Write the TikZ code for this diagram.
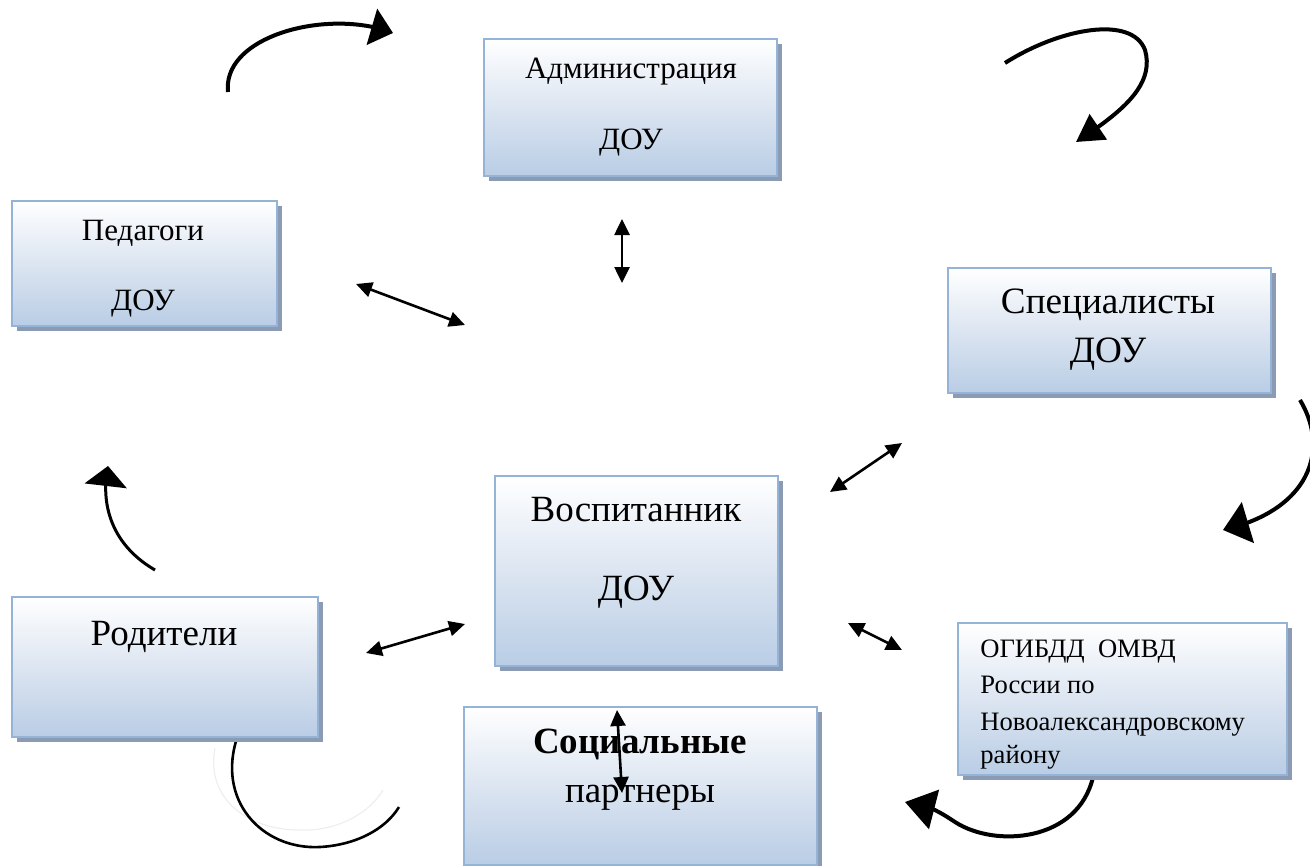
\documentclass[tikz,border=0pt]{standalone}
\usepackage{fontspec}
\setmainfont{Liberation Serif}
\usetikzlibrary{arrows.meta,shadows,bending}
\definecolor{bordc}{HTML}{95B3D7}
\definecolor{boxb}{HTML}{B9CDE5}
\definecolor{boxm}{HTML}{DCE5F1}
\definecolor{shadc}{HTML}{8A9BB3}
\definecolor{faint}{HTML}{EEEEEE}
\begin{document}
\begin{tikzpicture}[x=0.5pt,y=-0.5pt,
  box/.style={draw=bordc, line width=1pt, top color=white, bottom color=boxb, middle color=boxm,
    inner sep=0pt, drop shadow={shadow xshift=2.5pt, shadow yshift=-2.5pt, fill=shadc, opacity=1}},
  lbl/.style={anchor=base, inner sep=0pt},
  lbll/.style={anchor=base west, inner sep=0pt},
  dbl/.style={{Triangle[length=8pt,width=7.5pt]}-{Triangle[length=8pt,width=7.5pt]}, line width=1.3pt},
  curv/.style={line width=2pt}
]
\useasboundingbox (0,0) rectangle (1310,866);

% coordinates for curved arrows
\coordinate (c1s) at (228,92);   \coordinate (c1e) at (393,33);
\coordinate (c2s) at (1005,63);  \coordinate (c2m) at (1145,50); \coordinate (c2e) at (1076,142);
\coordinate (c3s) at (155,570);  \coordinate (c3e) at (108,466);
\coordinate (c4s) at (1300,400); \coordinate (c4e) at (1223,530);
\coordinate (c5s) at (1093,777); \coordinate (c5m) at (955,822); \coordinate (c5e) at (905,802);
\coordinate (c6s) at (238,735);  \coordinate (c6m) at (320,847); \coordinate (c6e) at (399,807);
\coordinate (f6s) at (215,748);  \coordinate (f6m) at (305,830); \coordinate (f6e) at (383,790);

% faint and black arc (bottom left)
\draw[faint, line width=0.6pt] (f6s) .. controls (205,800) and (250,832) .. (f6m) .. controls (340,830) and (370,812) .. (f6e);
\draw[line width=1.3pt] (c6s) .. controls (215,800) and (262,850) .. (c6m) .. controls (355,845) and (385,830) .. (c6e);

% curved arrows
\draw[curv, -{Triangle[length=11pt,width=18.5pt]}] (c1s) .. controls (222,35) and (330,8) .. (c1e);
\draw[curv, -{Triangle[length=13.5pt,width=15pt]}] (c2s) .. controls (1060,28) and (1132,15) .. (c2m) .. controls (1155,85) and (1122,112) .. (c2e);
\draw[curv, line width=1.5pt, -{Triangle[length=10pt,width=21pt]}] (c3s) .. controls (112,545) and (100,505) .. (c3e);
\draw[curv, -{Triangle[length=13pt,width=21pt]}] (c4s) .. controls (1330,450) and (1310,510) .. (c4e);
\draw[curv, -{Triangle[length=15pt,width=20pt]}] (c5s) .. controls (1078,842) and (995,848) .. (c5m) .. controls (940,812) and (925,803) .. (c5e);

% boxes
\node[box, minimum width=146.5pt, minimum height=68.5pt] (adm) at (630.5,107.5) {};
\node[box, minimum width=132.5pt, minimum height=62.5pt] (ped) at (144.5,263.5) {};
\node[box, minimum width=161.5pt, minimum height=62.5pt] (spec) at (1109.5,330.5) {};
\node[box, minimum width=141.5pt, minimum height=95pt] (vosp) at (636.5,571) {};
\node[box, minimum width=153pt, minimum height=70pt] (rod) at (165,667) {};
\node[box, minimum width=176.5pt, minimum height=79pt] (soc) at (640.5,786) {};
\node[box, minimum width=164.5pt, minimum height=76pt] (ogi) at (1122.5,699) {};

% labels
\node[lbl, font=\fontsize{15.5}{18}\selectfont] (adm1) at (631,79) {Администрация};
\node[lbl, font=\fontsize{15.5}{18}\selectfont] (adm2) at (631,150) {ДОУ};
\node[lbl, font=\fontsize{15.5}{18}\selectfont] (ped1) at (143,241) {Педагоги};
\node[lbl, font=\fontsize{15.5}{18}\selectfont] (ped2) at (143,310) {ДОУ};
\node[lbl, font=\fontsize{18.6}{22}\selectfont] (spec1) at (1108,313) {Специалисты};
\node[lbl, font=\fontsize{18.6}{22}\selectfont] (spec2) at (1108,362) {ДОУ};
\node[lbl, font=\fontsize{18.5}{22}\selectfont] (vosp1) at (636,521) {Воспитанник};
\node[lbl, font=\fontsize{18.5}{22}\selectfont] (vosp2) at (636,600) {ДОУ};
\node[lbl, font=\fontsize{18.5}{22}\selectfont] (rod1) at (164,645) {Родители};
\node[lbl, font=\fontsize{18.5}{22}\selectfont\bfseries] (soc1) at (640,753) {Социальные};
\node[lbl, font=\fontsize{18.5}{22}\selectfont] (soc2) at (640,802) {партнеры};
\node[lbll, font=\fontsize{13.3}{16}\selectfont] (ogi1) at (980,657) {ОГИБДД\ \ ОМВД};
\node[lbll, font=\fontsize{13.3}{16}\selectfont] (ogi2) at (980,693) {России по};
\node[lbll, font=\fontsize{13.3}{16}\selectfont] (ogi3) at (980,730) {Новоалександровскому};
\node[lbll, font=\fontsize{13.3}{16}\selectfont] (ogi4) at (980,763) {району};

% straight double arrows
\coordinate (a1) at (622,219); \coordinate (a2) at (622,283);
\coordinate (b1) at (356,284); \coordinate (b2) at (465,325);
\coordinate (s1) at (830,492); \coordinate (s2) at (902,443);
\coordinate (o1) at (848,623); \coordinate (o2) at (902,650);
\coordinate (r1) at (366,653); \coordinate (r2) at (465,624);
\coordinate (p1) at (617,710); \coordinate (p2) at (622,793);
\draw[dbl] (a1) -- (a2);
\draw[dbl] (b1) -- (b2);
\draw[dbl] (s1) -- (s2);
\draw[dbl] (o1) -- (o2);
\draw[dbl] (r1) -- (r2);
\draw[dbl] (p1) -- (p2);
\end{tikzpicture}
\end{document}
